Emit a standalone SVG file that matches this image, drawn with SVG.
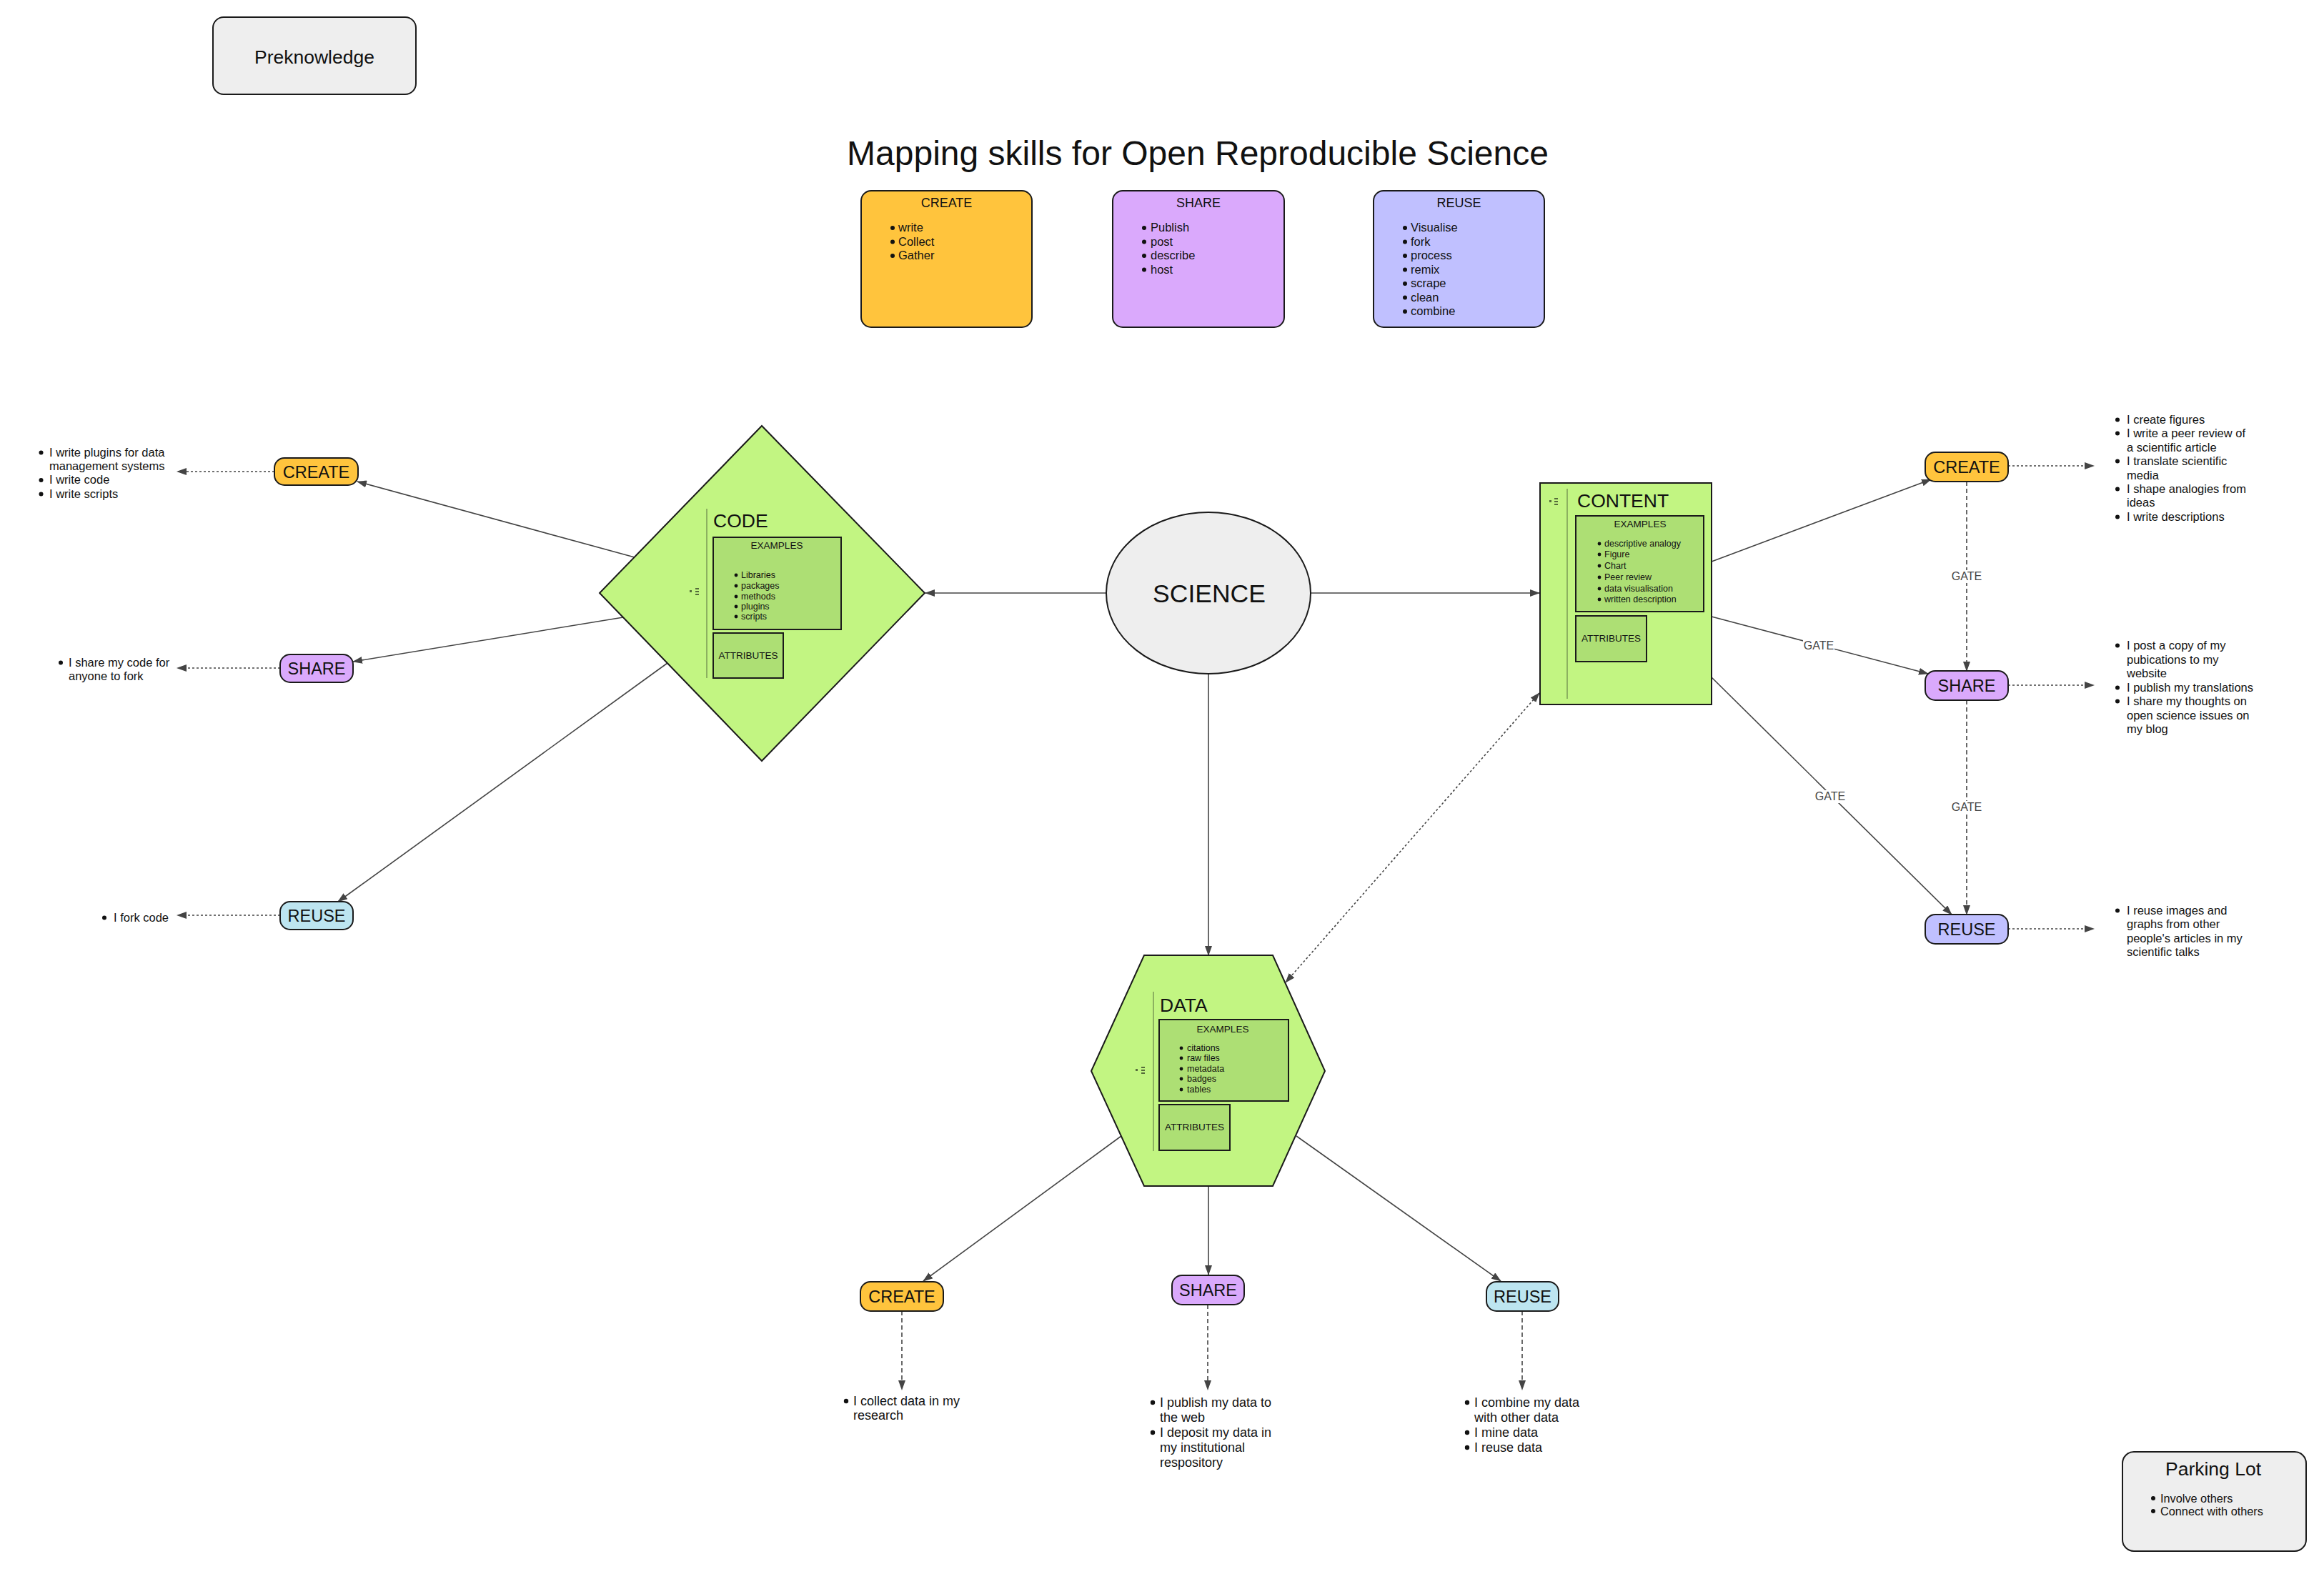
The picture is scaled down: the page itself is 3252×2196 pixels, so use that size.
<svg xmlns="http://www.w3.org/2000/svg" width="3252" height="2196" viewBox="0 0 3252 2196">
<defs>
<style>
text{font-family:"Liberation Sans",Arial,sans-serif;fill:#111}
.box{stroke:#1a1a1a;stroke-width:2}
.gray{fill:#eeeeee}
.create{fill:#ffc43d}
.share{fill:#daa9fc}
.reuse{fill:#c0c0ff}
.reuseb{fill:#bde5f0}
.green{fill:#c2f582;stroke:#1a1a1a;stroke-width:2}
.inner{fill:#addf74;stroke:#1a1a1a;stroke-width:2}
.sep{stroke:#7a9a55;stroke-width:1.5}
.nl{font-size:23.5px;text-anchor:middle}
.li{font-size:16.5px}
.lb{font-size:18px}
.ex{font-size:13.5px;text-anchor:middle}
.exi{font-size:12.5px}
.ttl{font-size:26.5px}
.lt{font-size:18px;text-anchor:middle}
.conn{stroke:#444;stroke-width:1.6;fill:none}
.dot{stroke:#444;stroke-width:1.6;fill:none;stroke-dasharray:3,3}
.dash{stroke:#444;stroke-width:1.6;fill:none;stroke-dasharray:6,4}
.gate{font-size:16px;text-anchor:middle;fill:#444}
.bul{fill:#111}
.ico{fill:#556b3a}
</style>
<marker id="ah" markerUnits="userSpaceOnUse" markerWidth="14" markerHeight="10" refX="13" refY="5" orient="auto-start-reverse" viewBox="0 0 14 10">
<path d="M0,0 L14,5 L0,10 z" fill="#444"/>
</marker>
</defs>
<rect width="3252" height="2196" fill="#ffffff"/>

<g id="connectors">
<line class="conn" x1="1548" y1="830" x2="1295" y2="830" marker-end="url(#ah)"/>
<line class="conn" x1="1834" y1="830" x2="2154" y2="830" marker-end="url(#ah)"/>
<line class="conn" x1="1691" y1="943" x2="1691" y2="1337" marker-end="url(#ah)"/>
<line class="dot" x1="2154" y1="970" x2="1799" y2="1375" marker-start="url(#ah)" marker-end="url(#ah)"/>
<line class="conn" x1="888" y1="780" x2="500" y2="674" marker-end="url(#ah)"/>
<line class="conn" x1="872" y1="864" x2="494" y2="926" marker-end="url(#ah)"/>
<line class="conn" x1="934" y1="928" x2="473" y2="1262" marker-end="url(#ah)"/>
<line class="dot" x1="384" y1="660" x2="248" y2="660" marker-end="url(#ah)"/>
<line class="dot" x1="392" y1="935" x2="248" y2="935" marker-end="url(#ah)"/>
<line class="dot" x1="392" y1="1281" x2="248" y2="1281" marker-end="url(#ah)"/>
<line class="conn" x1="2395" y1="786" x2="2702" y2="671" marker-end="url(#ah)"/>
<line class="conn" x1="2395" y1="863" x2="2698" y2="943" marker-end="url(#ah)"/>
<line class="conn" x1="2395" y1="948" x2="2731" y2="1280" marker-end="url(#ah)"/>
<line class="dash" x1="2752" y1="674" x2="2752" y2="939" marker-end="url(#ah)"/>
<line class="dash" x1="2752" y1="980" x2="2752" y2="1280" marker-end="url(#ah)"/>
<line class="dot" x1="2810" y1="652" x2="2930" y2="652" marker-end="url(#ah)"/>
<line class="dot" x1="2810" y1="959" x2="2930" y2="959" marker-end="url(#ah)"/>
<line class="dot" x1="2810" y1="1300" x2="2930" y2="1300" marker-end="url(#ah)"/>
<line class="conn" x1="1569" y1="1590" x2="1292" y2="1793" marker-end="url(#ah)"/>
<line class="conn" x1="1691" y1="1660" x2="1691" y2="1784" marker-end="url(#ah)"/>
<line class="conn" x1="1814" y1="1590" x2="2100" y2="1793" marker-end="url(#ah)"/>
<line class="dash" x1="1262" y1="1835" x2="1262" y2="1945" marker-end="url(#ah)"/>
<line class="dash" x1="1690" y1="1826" x2="1690" y2="1945" marker-end="url(#ah)"/>
<line class="dash" x1="2130" y1="1835" x2="2130" y2="1945" marker-end="url(#ah)"/>
<rect x="2523" y="894" width="44" height="18" fill="#fff"/>
<text class="gate" x="2545" y="909">GATE</text>
<rect x="2730" y="798" width="44" height="18" fill="#fff"/>
<text class="gate" x="2752" y="812">GATE</text>
<rect x="2539" y="1106" width="44" height="18" fill="#fff"/>
<text class="gate" x="2561" y="1120">GATE</text>
<rect x="2730" y="1121" width="44" height="18" fill="#fff"/>
<text class="gate" x="2752" y="1135">GATE</text>
</g>

<g id="preknowledge">
<rect class="box gray" x="298" y="24" width="284" height="108" rx="15"/>
<text x="440" y="89" font-size="26.5" text-anchor="middle">Preknowledge</text>
</g>

<g id="title">
<text x="1676" y="231" font-size="48" text-anchor="middle">Mapping skills for Open Reproducible Science</text>
</g>

<g id="legend-create">
<rect class="box create" x="1205" y="267" width="239" height="191" rx="14"/>
<text class="lt" x="1324.5" y="290">CREATE</text>
<circle class="bul" cx="1249" cy="319" r="3"/><text class="li" x="1257" y="324">write</text>
<circle class="bul" cx="1249" cy="338.5" r="3"/><text class="li" x="1257" y="343.5">Collect</text>
<circle class="bul" cx="1249" cy="358" r="3"/><text class="li" x="1257" y="363">Gather</text>
</g>
<g id="legend-share">
<rect class="box share" x="1557" y="267" width="240" height="191" rx="14"/>
<text class="lt" x="1677" y="290">SHARE</text>
<circle class="bul" cx="1601" cy="319" r="3"/><text class="li" x="1610" y="324">Publish</text>
<circle class="bul" cx="1601" cy="338.5" r="3"/><text class="li" x="1610" y="343.5">post</text>
<circle class="bul" cx="1601" cy="358" r="3"/><text class="li" x="1610" y="363">describe</text>
<circle class="bul" cx="1601" cy="377.5" r="3"/><text class="li" x="1610" y="382.5">host</text>
</g>
<g id="legend-reuse">
<rect class="box reuse" x="1922" y="267" width="239" height="191" rx="14"/>
<text class="lt" x="2041.5" y="290">REUSE</text>
<circle class="bul" cx="1966" cy="319" r="3"/><text class="li" x="1974" y="324">Visualise</text>
<circle class="bul" cx="1966" cy="338.5" r="3"/><text class="li" x="1974" y="343.5">fork</text>
<circle class="bul" cx="1966" cy="358" r="3"/><text class="li" x="1974" y="363">process</text>
<circle class="bul" cx="1966" cy="377.5" r="3"/><text class="li" x="1974" y="382.5">remix</text>
<circle class="bul" cx="1966" cy="397" r="3"/><text class="li" x="1974" y="402">scrape</text>
<circle class="bul" cx="1966" cy="416.5" r="3"/><text class="li" x="1974" y="421.5">clean</text>
<circle class="bul" cx="1966" cy="436" r="3"/><text class="li" x="1974" y="441">combine</text>
</g>

<g id="science">
<ellipse cx="1691" cy="830" rx="143" ry="113" fill="#eeeeee" stroke="#1a1a1a" stroke-width="2"/>
<text x="1692" y="843" font-size="35.5" text-anchor="middle">SCIENCE</text>
</g>

<g id="code">
<polygon class="green" points="1066,596 1294,830 1066,1065 839,830"/>
<line class="sep" x1="989" y1="712" x2="989" y2="949"/>
<rect class="ico" x="965" y="826" width="3" height="3"/>
<rect class="ico" x="973" y="823" width="5" height="2"/>
<rect class="ico" x="973" y="827" width="5" height="2"/>
<rect class="ico" x="973" y="831" width="5" height="2"/>
<text class="ttl" x="998" y="738">CODE</text>
<rect class="inner" x="998" y="752" width="179" height="129"/>
<text class="ex" x="1087" y="768">EXAMPLES</text>
<circle class="bul" cx="1030" cy="805" r="2.4"/><text class="exi" x="1037" y="809">Libraries</text>
<circle class="bul" cx="1030" cy="820" r="2.4"/><text class="exi" x="1037" y="824">packages</text>
<circle class="bul" cx="1030" cy="835" r="2.4"/><text class="exi" x="1037" y="839">methods</text>
<circle class="bul" cx="1030" cy="849" r="2.4"/><text class="exi" x="1037" y="853">plugins</text>
<circle class="bul" cx="1030" cy="863" r="2.4"/><text class="exi" x="1037" y="867">scripts</text>
<rect class="inner" x="998" y="886" width="98" height="63"/>
<text class="ex" x="1047" y="922" font-size="13">ATTRIBUTES</text>
</g>

<g id="content">
<rect class="green" x="2155" y="676" width="240" height="310"/>
<line class="sep" x1="2193" y1="684" x2="2193" y2="978"/>
<rect class="ico" x="2168" y="700" width="3" height="3"/>
<rect class="ico" x="2175" y="697" width="5" height="2"/>
<rect class="ico" x="2175" y="701" width="5" height="2"/>
<rect class="ico" x="2175" y="705" width="5" height="2"/>
<text class="ttl" x="2207" y="710">CONTENT</text>
<rect class="inner" x="2205" y="722" width="179" height="134"/>
<text class="ex" x="2295" y="738">EXAMPLES</text>
<circle class="bul" cx="2238" cy="761" r="2.4"/><text class="exi" x="2245" y="765">descriptive analogy</text>
<circle class="bul" cx="2238" cy="776" r="2.4"/><text class="exi" x="2245" y="780">Figure</text>
<circle class="bul" cx="2238" cy="792" r="2.4"/><text class="exi" x="2245" y="796">Chart</text>
<circle class="bul" cx="2238" cy="808" r="2.4"/><text class="exi" x="2245" y="812">Peer review</text>
<circle class="bul" cx="2238" cy="824" r="2.4"/><text class="exi" x="2245" y="828">data visualisation</text>
<circle class="bul" cx="2238" cy="839" r="2.4"/><text class="exi" x="2245" y="843">written description</text>
<rect class="inner" x="2205" y="862" width="99" height="64"/>
<text class="ex" x="2254.5" y="898" font-size="13">ATTRIBUTES</text>
</g>

<g id="data">
<polygon class="green" points="1601,1337 1781,1337 1854,1499 1781,1660 1601,1660 1527,1499"/>
<line class="sep" x1="1614" y1="1388" x2="1614" y2="1611"/>
<rect class="ico" x="1589" y="1496" width="3" height="3"/>
<rect class="ico" x="1597" y="1493" width="5" height="2"/>
<rect class="ico" x="1597" y="1497" width="5" height="2"/>
<rect class="ico" x="1597" y="1501" width="5" height="2"/>
<text class="ttl" x="1623" y="1416">DATA</text>
<rect class="inner" x="1622" y="1427" width="181" height="114"/>
<text class="ex" x="1711" y="1445">EXAMPLES</text>
<circle class="bul" cx="1653" cy="1467" r="2.4"/><text class="exi" x="1661" y="1471">citations</text>
<circle class="bul" cx="1653" cy="1481" r="2.4"/><text class="exi" x="1661" y="1485">raw files</text>
<circle class="bul" cx="1653" cy="1496" r="2.4"/><text class="exi" x="1661" y="1500">metadata</text>
<circle class="bul" cx="1653" cy="1510" r="2.4"/><text class="exi" x="1661" y="1514">badges</text>
<circle class="bul" cx="1653" cy="1525" r="2.4"/><text class="exi" x="1661" y="1529">tables</text>
<rect class="inner" x="1622" y="1546" width="99" height="64"/>
<text class="ex" x="1671.5" y="1582" font-size="13.3">ATTRIBUTES</text>
</g>

<g id="code-create">
<rect class="box create" x="384" y="641" width="117" height="38" rx="14"/>
<text class="nl" x="442.5" y="668.5">CREATE</text>
</g>
<g id="code-share">
<rect class="box share" x="392" y="916" width="102" height="39" rx="14"/>
<text class="nl" x="443" y="944">SHARE</text>
</g>
<g id="code-reuse">
<rect class="box reuseb" x="392" y="1262" width="102" height="39" rx="14"/>
<text class="nl" x="443" y="1290">REUSE</text>
</g>
<g id="code-create-text">
<circle class="bul" cx="57.5" cy="633.5" r="3"/>
<text class="li" x="69" y="639">I write plugins for data</text>
<text class="li" x="69" y="658">management systems</text>
<circle class="bul" cx="57.5" cy="672" r="3"/><text class="li" x="69" y="677">I write code</text>
<circle class="bul" cx="57.5" cy="691.5" r="3"/><text class="li" x="69" y="697">I write scripts</text>
</g>
<g id="code-share-text">
<circle class="bul" cx="85" cy="927.5" r="3"/>
<text class="li" x="96" y="933">I share my code for</text>
<text class="li" x="96" y="952">anyone to fork</text>
</g>
<g id="code-reuse-text">
<circle class="bul" cx="146" cy="1284.5" r="3"/>
<text class="li" x="159" y="1290">I fork code</text>
</g>

<g id="content-create">
<rect class="box create" x="2694" y="633" width="116" height="41" rx="14"/>
<text class="nl" x="2752" y="662">CREATE</text>
</g>
<g id="content-share">
<rect class="box share" x="2694" y="939" width="116" height="41" rx="14"/>
<text class="nl" x="2752" y="968">SHARE</text>
</g>
<g id="content-reuse">
<rect class="box reuse" x="2694" y="1280" width="116" height="41" rx="14"/>
<text class="nl" x="2752" y="1309">REUSE</text>
</g>
<g id="content-create-text">
<circle class="bul" cx="2963" cy="587.5" r="3"/><text class="li" x="2976" y="593">I create figures</text>
<circle class="bul" cx="2963" cy="606.5" r="3"/><text class="li" x="2976" y="612">I write a peer review of</text>
<text class="li" x="2976" y="632">a scientific article</text>
<circle class="bul" cx="2963" cy="645.5" r="3"/><text class="li" x="2976" y="651">I translate scientific</text>
<text class="li" x="2976" y="671">media</text>
<circle class="bul" cx="2963" cy="684.5" r="3"/><text class="li" x="2976" y="690">I shape analogies from</text>
<text class="li" x="2976" y="709">ideas</text>
<circle class="bul" cx="2963" cy="723.5" r="3"/><text class="li" x="2976" y="729">I write descriptions</text>
</g>
<g id="content-share-text">
<circle class="bul" cx="2963" cy="903.5" r="3"/><text class="li" x="2976" y="909">I post a copy of my</text>
<text class="li" x="2976" y="929">pubications to my</text>
<text class="li" x="2976" y="948">website</text>
<circle class="bul" cx="2963" cy="962.5" r="3"/><text class="li" x="2976" y="968">I publish my translations</text>
<circle class="bul" cx="2963" cy="981.5" r="3"/><text class="li" x="2976" y="987">I share my thoughts on</text>
<text class="li" x="2976" y="1007">open science issues on</text>
<text class="li" x="2976" y="1026">my blog</text>
</g>
<g id="content-reuse-text">
<circle class="bul" cx="2963" cy="1274.5" r="3"/><text class="li" x="2976" y="1280">I reuse images and</text>
<text class="li" x="2976" y="1299">graphs from other</text>
<text class="li" x="2976" y="1319">people's articles in my</text>
<text class="li" x="2976" y="1338">scientific talks</text>
</g>

<g id="data-create">
<rect class="box create" x="1204" y="1794" width="116" height="41" rx="14"/>
<text class="nl" x="1262" y="1823">CREATE</text>
</g>
<g id="data-share">
<rect class="box share" x="1640" y="1785" width="101" height="41" rx="14"/>
<text class="nl" x="1690.5" y="1814">SHARE</text>
</g>
<g id="data-reuse">
<rect class="box reuseb" x="2080" y="1794" width="101" height="41" rx="14"/>
<text class="nl" x="2130.5" y="1823">REUSE</text>
</g>
<g id="data-create-text">
<circle class="bul" cx="1184" cy="1961" r="3.2"/><text class="lb" x="1194" y="1967">I collect data in my</text>
<text class="lb" x="1194" y="1987">research</text>
</g>
<g id="data-share-text">
<circle class="bul" cx="1613" cy="1963" r="3.2"/><text class="lb" x="1623" y="1969">I publish my data to</text>
<text class="lb" x="1623" y="1990">the web</text>
<circle class="bul" cx="1613" cy="2005" r="3.2"/><text class="lb" x="1623" y="2011">I deposit my data in</text>
<text class="lb" x="1623" y="2032">my institutional</text>
<text class="lb" x="1623" y="2053">respository</text>
</g>
<g id="data-reuse-text">
<circle class="bul" cx="2053" cy="1963" r="3.2"/><text class="lb" x="2063" y="1969">I combine my data</text>
<text class="lb" x="2063" y="1990">with other data</text>
<circle class="bul" cx="2053" cy="2005" r="3.2"/><text class="lb" x="2063" y="2011">I mine data</text>
<circle class="bul" cx="2053" cy="2026" r="3.2"/><text class="lb" x="2063" y="2032">I reuse data</text>
</g>

<g id="parking-lot">
<rect class="box gray" x="2970" y="2032" width="257" height="139" rx="16"/>
<text x="3097" y="2065" font-size="26.5" text-anchor="middle">Parking Lot</text>
<circle class="bul" cx="3013" cy="2097" r="3"/><text x="3023" y="2103" font-size="16.3">Involve others</text>
<circle class="bul" cx="3013" cy="2115" r="3"/><text x="3023" y="2121" font-size="16.3">Connect with others</text>
</g>
</svg>
